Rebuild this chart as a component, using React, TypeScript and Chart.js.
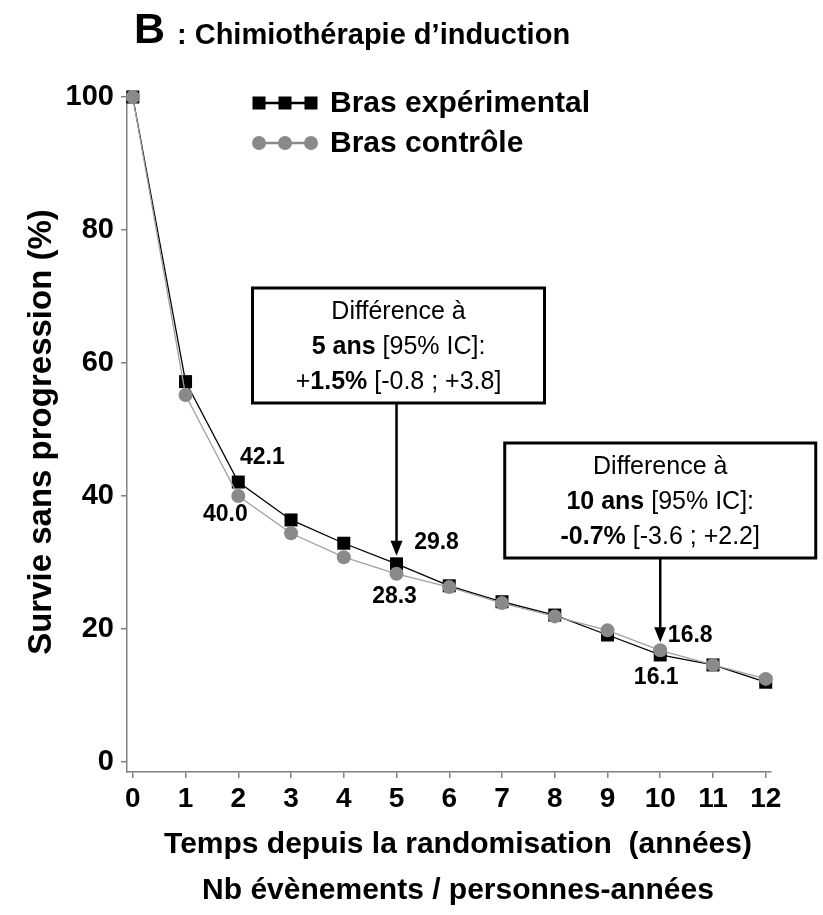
import React, { useEffect, useRef } from "react";
import { Chart, registerables } from "chart.js";

Chart.register(...registerables);

// ---------- data ----------
const years = [0, 1, 2, 3, 4, 5, 6, 7, 8, 9, 10, 11, 12];
const experimental = [100, 57.2, 42.1, 36.4, 32.9, 29.8, 26.5, 24.1, 22.1, 19.1, 16.1, 14.6, 12.0];
const control = [100, 55.2, 40.0, 34.4, 30.8, 28.3, 26.3, 23.9, 21.9, 19.8, 16.8, 14.6, 12.5];
const yTicks = [0, 20, 40, 60, 80, 100];
const seriesNames = ["Bras expérimental", "Bras contrôle"];
const labelledYears = [2, 5, 10];
const annotationYears = [5, 10];
const annotationTitle = ["Différence à", "Difference à"];
const annotationHorizon = ["5 ans", "10 ans"];
const annotationSign = ["+", ""];
const annotationDiff = ["1.5%", "-0.7%"];
const annotationCI = ["[-0.8 ; +3.8]", "[-3.6 ; +2.2]"];
const titleLetter = "B";
const titleText = ": Chimiothérapie d\u2019induction";
const yTitle = "Survie sans progression (%)";
const xTitleLines = ["Temps depuis la randomisation  (années)", "Nb évènements / personnes-années"];

const FONT = '"Liberation Sans", Arial, Helvetica, sans-serif';
const BLACK = "#000000";
const GREY = "#8a8a8a";
const GREY_LINE = "#a0a0a0";
const AXIS = "#808080";

type Run = { text: string; bold: boolean };

function drawRuns(ctx: CanvasRenderingContext2D, runs: Run[], cx: number, cy: number, size: number) {
  let total = 0;
  const widths = runs.map((r) => {
    ctx.font = `${r.bold ? "bold " : ""}${size}px ${FONT}`;
    const w = ctx.measureText(r.text).width;
    total += w;
    return w;
  });
  let x = cx - total / 2;
  ctx.textAlign = "left";
  ctx.textBaseline = "middle";
  runs.forEach((r, i) => {
    ctx.font = `${r.bold ? "bold " : ""}${size}px ${FONT}`;
    ctx.fillText(r.text, x, cy);
    x += widths[i];
  });
}

function drawArrow(ctx: CanvasRenderingContext2D, x: number, y0: number, y1: number) {
  ctx.save();
  ctx.strokeStyle = BLACK;
  ctx.fillStyle = BLACK;
  ctx.lineWidth = 2.5;
  ctx.beginPath();
  ctx.moveTo(x, y0);
  ctx.lineTo(x, y1 - 12);
  ctx.stroke();
  ctx.beginPath();
  ctx.moveTo(x - 6, y1 - 15);
  ctx.lineTo(x + 6, y1 - 15);
  ctx.lineTo(x, y1);
  ctx.closePath();
  ctx.fill();
  ctx.restore();
}

const overlayPlugin = {
  id: "overlay",
  afterDraw(chart: any) {
    const ctx: CanvasRenderingContext2D = chart.ctx;
    const xs = chart.scales.x;
    const ys = chart.scales.y;
    ctx.save();
    ctx.fillStyle = BLACK;

    // title
    ctx.textAlign = "left";
    ctx.textBaseline = "alphabetic";
    ctx.font = `bold 43px ${FONT}`;
    ctx.fillText(titleLetter, 134, 43);
    ctx.font = `bold 29px ${FONT}`;
    ctx.fillText(titleText, 177, 44);

    // legend
    const legendY = [103, 143];
    legendY.forEach((ly, i) => {
      ctx.strokeStyle = i === 0 ? BLACK : GREY;
      ctx.lineWidth = 2.5;
      ctx.beginPath();
      ctx.moveTo(253, ly);
      ctx.lineTo(316, ly);
      ctx.stroke();
      [259, 285, 311].forEach((mx) => {
        ctx.fillStyle = i === 0 ? BLACK : GREY;
        if (i === 0) {
          ctx.fillRect(mx - 6.5, ly - 6.5, 13, 13);
        } else {
          ctx.beginPath();
          ctx.arc(mx, ly, 7, 0, Math.PI * 2);
          ctx.fill();
        }
      });
      ctx.fillStyle = BLACK;
      ctx.font = `bold 30px ${FONT}`;
      ctx.textAlign = "left";
      ctx.textBaseline = "middle";
      ctx.fillText(seriesNames[i], 330, ly + 1);
    });

    // y title
    ctx.save();
    ctx.translate(42, 432);
    ctx.rotate(-Math.PI / 2);
    ctx.font = `bold 33px ${FONT}`;
    ctx.textAlign = "center";
    ctx.textBaseline = "middle";
    ctx.fillText(yTitle, 0, 0);
    ctx.restore();

    // x titles
    ctx.font = `bold 30px ${FONT}`;
    ctx.textAlign = "center";
    ctx.textBaseline = "middle";
    ctx.fillText(xTitleLines[0], 458, 845);
    ctx.fillText(xTitleLines[1], 458, 891);

    // value labels
    const expOff: Record<number, [number, number]> = { 2: [24, -24], 5: [40, -21], 10: [-4, 23] };
    const ctrlOff: Record<number, [number, number]> = { 2: [-13, 19], 5: [-2, 23], 10: [30, -15] };
    ctx.font = `bold 23px ${FONT}`;
    labelledYears.forEach((yr) => {
      const idx = years.indexOf(yr);
      const px = xs.getPixelForValue(yr);
      const e = experimental[idx];
      const c = control[idx];
      ctx.fillText(e.toFixed(1), px + expOff[yr][0], ys.getPixelForValue(e) + expOff[yr][1]);
      ctx.fillText(c.toFixed(1), px + ctrlOff[yr][0], ys.getPixelForValue(c) + ctrlOff[yr][1]);
    });

    // annotation boxes
    const boxTop = [288, 443];
    const boxW = [292, 311];
    const boxH = 115;
    annotationYears.forEach((yr, i) => {
      const idx = years.indexOf(yr);
      const px = xs.getPixelForValue(yr);
      const top = boxTop[i];
      const left = px - boxW[i] / 2 + (i === 0 ? 2 : 0);
      ctx.fillStyle = "#ffffff";
      ctx.fillRect(left, top, boxW[i], boxH);
      ctx.strokeStyle = BLACK;
      ctx.lineWidth = 3;
      ctx.strokeRect(left, top, boxW[i], boxH);
      ctx.fillStyle = BLACK;
      const cx = left + boxW[i] / 2;
      drawRuns(ctx, [{ text: annotationTitle[i], bold: false }], cx, top + 24, 25);
      drawRuns(ctx, [{ text: annotationHorizon[i], bold: true }, { text: " [95% IC]:", bold: false }], cx, top + 59, 25);
      drawRuns(
        ctx,
        [
          { text: annotationSign[i], bold: false },
          { text: annotationDiff[i], bold: true },
          { text: " " + annotationCI[i], bold: false },
        ],
        cx,
        top + 94,
        25
      );
      const topVal = Math.max(experimental[idx], control[idx]);
      const tipY = ys.getPixelForValue(topVal) - 8;
      drawArrow(ctx, px, top + boxH, tipY);
    });

    ctx.restore();
  },
};

export default function App() {
  const ref = useRef<HTMLCanvasElement | null>(null);
  useEffect(() => {
    if (!ref.current) return;
    const chart = new Chart(ref.current, {
      type: "line",
      data: {
        labels: years,
        datasets: [
          {
            label: seriesNames[0],
            data: years.map((x, i) => ({ x, y: experimental[i] })),
            borderColor: BLACK,
            backgroundColor: BLACK,
            borderWidth: 1.3,
            pointStyle: "rect",
            pointRadius: 9.2,
            pointBorderWidth: 0,
            pointBackgroundColor: BLACK,
            clip: false,
            order: 2,
          } as any,
          {
            label: seriesNames[1],
            data: years.map((x, i) => ({ x, y: control[i] })),
            borderColor: GREY_LINE,
            backgroundColor: GREY,
            borderWidth: 1.3,
            pointStyle: "circle",
            pointRadius: 7,
            pointBorderWidth: 0,
            pointBackgroundColor: GREY,
            clip: false,
            order: 1,
          } as any,
        ],
      },
      options: {
        responsive: false,
        animation: false,
        devicePixelRatio: 1,
        layout: { padding: { left: 0, top: 97, right: 52, bottom: 0 } },
        plugins: { legend: { display: false }, tooltip: { enabled: false }, title: { display: false } },
        scales: {
          x: {
            type: "linear",
            min: -0.11,
            max: 12.1,
            afterFit: (s: any) => {
              s.height = 143;
            },
            afterBuildTicks: (s: any) => {
              s.ticks = years.map((v) => ({ value: v }));
            },
            grid: { display: true, drawOnChartArea: false, drawTicks: true, tickLength: 6, color: AXIS, lineWidth: 1.5 },
            border: { display: true, color: AXIS, width: 1.5 },
            ticks: {
              color: BLACK,
              font: { family: FONT, size: 28, weight: "bold" },
              padding: 4,
              maxRotation: 0,
              autoSkip: false,
              callback: (v: any) => String(v),
            },
          },
          y: {
            type: "linear",
            min: -1.5,
            max: 100,
            afterFit: (s: any) => {
              s.width = 127;
            },
            afterBuildTicks: (s: any) => {
              s.ticks = yTicks.map((v) => ({ value: v }));
            },
            grid: { display: true, drawOnChartArea: false, drawTicks: true, tickLength: 6, color: AXIS, lineWidth: 1.5 },
            border: { display: true, color: AXIS, width: 1.5 },
            ticks: {
              color: BLACK,
              font: { family: FONT, size: 29, weight: "bold" },
              padding: 7,
              autoSkip: false,
              callback: (v: any) => String(v),
            },
          },
        },
      } as any,
      plugins: [overlayPlugin],
    });
    return () => chart.destroy();
  }, []);
  return (
    <div style={{ position: "absolute", left: 0, top: 0, width: 823, height: 915, background: "#fff" }}>
      <canvas ref={ref} width={823} height={915} />
    </div>
  );
}
